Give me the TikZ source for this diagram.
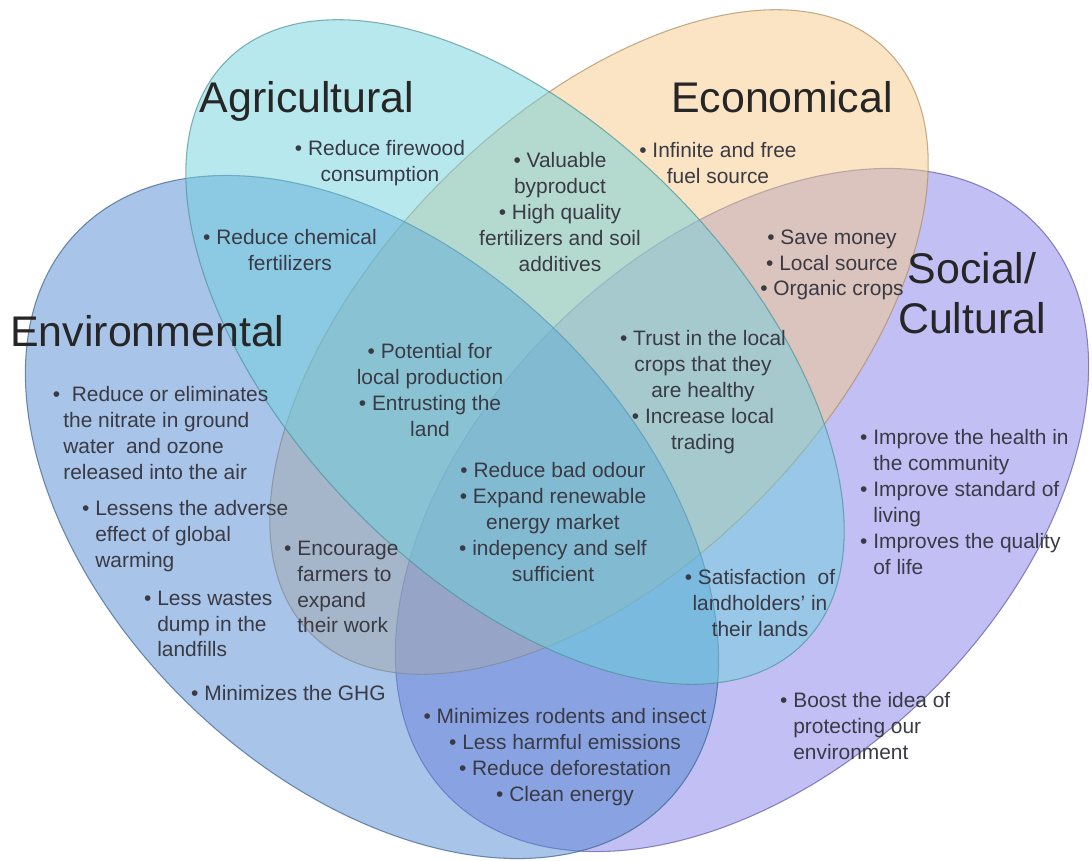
\documentclass[tikz,border=0pt]{standalone}
\usepackage{fontspec}
\setmainfont{Liberation Sans}
\usepackage{xcolor}
\definecolor{colenv}{HTML}{5189D1}
\definecolor{colagri}{HTML}{6FD1DD}
\definecolor{coleco}{HTML}{F5C987}
\definecolor{colsoc}{HTML}{857FEB}
\definecolor{coltext}{HTML}{3A3A44}
\definecolor{coltitle}{HTML}{262626}
\def\envname{Environmental}
\def\agriname{Agricultural}
\def\econame{Economical}
\def\socname{Social/\\Cultural}

\begin{document}
\begin{tikzpicture}[x=0.2mm, y=-0.2mm,
		venn/.style={line width=0.6pt, fill opacity=0.5, draw opacity=0.7},
		title/.style={font=\fontsize{24.4}{28.4}\selectfont, text=coltitle, align=center, inner sep=0},
		item/.style={font=\fontsize{11.9}{14.7}\selectfont, text=coltext, align=center, inner sep=0},
		litem/.style={item, align=left, anchor=west},
	]
	\useasboundingbox (0,0) rectangle (1092,861);
	% the four sets, back to front
	\draw[venn, fill=colsoc, draw=colsoc!70!black, rotate around={44:(742,510)}] (742,510) ellipse [x radius=410, y radius=262];
	\draw[venn, fill=coleco, draw=coleco!70!black, rotate around={45.5:(599,342)}] (599,342) ellipse [x radius=410, y radius=225];
	\draw[venn, fill=colenv, draw=colenv!70!black, rotate around={-44:(372,517)}] (372,517) ellipse [x radius=410, y radius=262];
	\draw[venn, fill=colagri, draw=colagri!70!black, rotate around={-45.5:(515,352)}] (515,352) ellipse [x radius=410, y radius=225];

	% set names
	\node[title, anchor=base] (agri) at (307,112) {\agriname};
	\node[title, anchor=base] (eco) at (782,112) {\econame};
	\node[title, anchor=base west] (env) at (10,346) {\envname};
	\node[title] (soc) at (972,293) {\socname};

	% entries
	\node[item] (firewood) at (380,163) {• Reduce firewood\\consumption};
	\node[item] (byproduct) at (560,212) {• Valuable\\byproduct\\• High quality\\fertilizers and soil\\additives};
	\node[item] (fuel) at (718,163) {• Infinite and free\\fuel source};
	\node[item] (chemical) at (290,250) {• Reduce chemical\\fertilizers};
	\node[item] (money) at (832,265) {• Save money\\• Local source\\• Organic crops};
	\node[item] (potential) at (430,390) {• Potential for\\local production\\• Entrusting the\\land};
	\node[item] (trust) at (703,392) {• Trust in the local\\crops that they\\are healthy\\• Increase local\\trading};
	\node[item] (odour) at (553,522) {• Reduce bad odour\\• Expand renewable\\energy market\\• indepency and self\\sufficient};
	\node[item] (landholders) at (760,603) {• Satisfaction\ \ of\\landholders' in\\their lands};
	\node[item] (rodents) at (565,757) {• Minimizes rodents and insect\\• Less harmful emissions\\• Reduce deforestation\\• Clean energy};
	\node[litem] (nitrate) at (63,433) {\kern-0.5em•\ \ Reduce or eliminates\\the nitrate in ground\\water\ \ and ozone\\released into the air};
	\node[litem] (warming) at (95,536) {\llap{•\ }Lessens the adverse\\effect of global\\warming};
	\node[litem] (landfills) at (157,624) {\llap{•\ }Less wastes\\dump in the\\landfills};
	\node[litem] (ghg) at (204,693) {\llap{•\ }Minimizes the GHG};
	\node[litem] (farmers) at (297,587) {\llap{•\ }Encourage\\farmers to\\expand\\their work};
	\node[litem] (health) at (873,502) {\llap{•\ }Improve the health in\\the community\\\llap{•\ }Improve standard of\\living\\\llap{•\ }Improves the quality\\of life};
	\node[litem] (boost) at (793,726) {\llap{•\ }Boost the idea of\\protecting our\\environment};
\end{tikzpicture}
\end{document}
